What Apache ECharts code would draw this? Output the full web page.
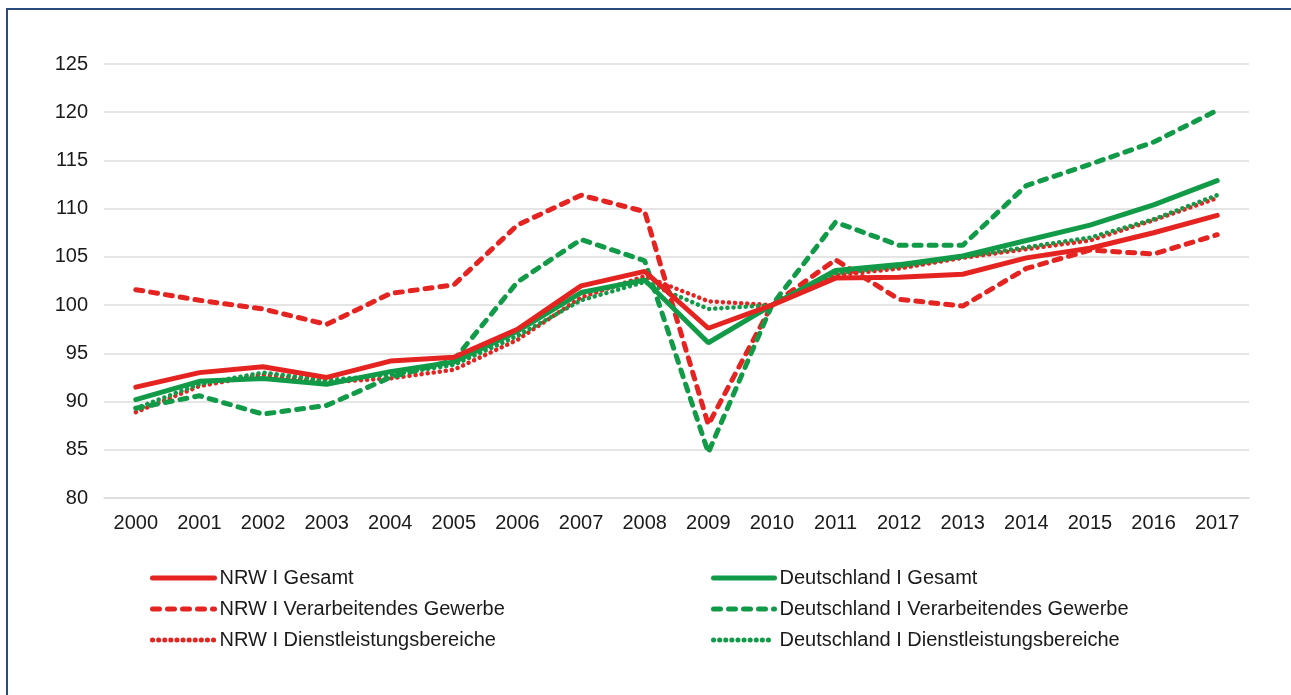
<!DOCTYPE html>
<html>
<head>
<meta charset="utf-8">
<script src="https://cdn.jsdelivr.net/npm/echarts@6/dist/echarts.min.js"></script>
<style>
  html, body { margin: 0; padding: 0; background: #fff; }
  #chart { width: 1291px; height: 695px; }
  .frame {
    position: absolute; left: 6px; top: 8px; width: 1300px; height: 700px;
    border-left: 2px solid #2b4a7c; border-top: 2px solid #2b4a7c;
    pointer-events: none;
  }
</style>
</head>
<body>
<div id="chart"></div>
<div class="frame"></div>
<script>
  // Jahre (Index 2010 = 100)
  const years = ['2000', '2001', '2002', '2003', '2004', '2005', '2006', '2007', '2008',
    '2009', '2010', '2011', '2012', '2013', '2014', '2015', '2016', '2017'];

  const nrwGesamt = [91.5, 93.0, 93.6, 92.5, 94.2, 94.6, 97.5, 102.0, 103.5,
    97.6, 100, 102.8, 102.9, 103.2, 104.9, 105.9, 107.5, 109.3];
  const nrwVerarb = [101.6, 100.5, 99.6, 98.0, 101.2, 102.1, 108.3, 111.4, 109.7,
    87.6, 100, 104.7, 100.6, 99.9, 103.8, 105.7, 105.3, 107.3];
  const nrwDienst = [88.9, 91.6, 92.8, 92.0, 92.4, 93.3, 96.4, 100.8, 103.0,
    100.4, 100, 103.1, 103.8, 104.9, 105.8, 106.7, 108.8, 111.1];
  const deGesamt = [90.2, 92.1, 92.4, 91.8, 93.1, 94.1, 97.3, 101.3, 102.6,
    96.1, 100, 103.6, 104.2, 105.1, 106.7, 108.3, 110.4, 112.9];
  const deVerarb = [89.3, 90.6, 88.7, 89.6, 92.5, 94.3, 102.4, 106.8, 104.6,
    84.7, 100, 108.6, 106.2, 106.2, 112.4, 114.6, 116.9, 120.2];
  const deDienst = [89.3, 91.8, 93.0, 92.2, 92.8, 93.8, 96.8, 100.5, 102.4,
    99.6, 100, 103.3, 104.0, 105.0, 106.0, 107.0, 108.9, 111.4];

  const RED = '#e52421';
  const GREEN = '#119a47';
  const FONT = '"Liberation Sans", Arial, Helvetica, sans-serif';

  const styles = {
    solid: { type: 'solid', width: 5, cap: 'round' },
    dashed: { type: [7, 8], width: 5, cap: 'round' },
    dotted: { type: [0.1, 6], width: 4.5, cap: 'round' },
  };

  const mkSeries = (name, data, color, kind) => ({
    name,
    type: 'line',
    data,
    symbol: 'none',
    smooth: false,
    lineStyle: { color, ...styles[kind] },
    itemStyle: { color },
    emphasis: { disabled: true },
  });

  const series = [
    mkSeries('NRW I Dienstleistungsbereiche', nrwDienst, RED, 'dotted'),
    mkSeries('Deutschland I Dienstleistungsbereiche', deDienst, GREEN, 'dotted'),
    mkSeries('NRW I Verarbeitendes Gewerbe', nrwVerarb, RED, 'dashed'),
    mkSeries('Deutschland I Verarbeitendes Gewerbe', deVerarb, GREEN, 'dashed'),
    mkSeries('Deutschland I Gesamt', deGesamt, GREEN, 'solid'),
    mkSeries('NRW I Gesamt', nrwGesamt, RED, 'solid'),
  ];

  const legendBase = {
    orient: 'vertical',
    top: 568,
    padding: 0,
    itemHeight: 14,
    itemGap: 11,
    selectedMode: false,
    itemStyle: { opacity: 0, borderWidth: 0 },
    lineStyle: { width: 5 },
    textStyle: { fontFamily: FONT, fontSize: 20, color: '#1a1a1a' },
  };

  const chart = echarts.init(document.getElementById('chart'));
  chart.setOption({
    animation: false,
    backgroundColor: '#fff',
    grid: { left: 104, right: 42, top: 64, bottom: 197 },
    legend: [
      { ...legendBase, left: 150, itemWidth: 62,
        data: ['NRW I Gesamt', 'NRW I Verarbeitendes Gewerbe', 'NRW I Dienstleistungsbereiche'] },
      { ...legendBase, left: 711, itemWidth: 61,
        data: ['Deutschland I Gesamt', 'Deutschland I Verarbeitendes Gewerbe', 'Deutschland I Dienstleistungsbereiche'] },
    ],
    xAxis: {
      type: 'category',
      data: years,
      boundaryGap: true,
      axisLine: { show: true, lineStyle: { color: '#dcdcdc', width: 1.5 } },
      axisTick: { show: false },
      axisLabel: { fontFamily: FONT, fontSize: 20, color: '#1a1a1a', margin: 15 },
    },
    yAxis: {
      type: 'value',
      min: 80,
      max: 125,
      interval: 5,
      axisLine: { show: false },
      axisTick: { show: false },
      axisLabel: { fontFamily: FONT, fontSize: 20, color: '#1a1a1a', margin: 16 },
      splitLine: { lineStyle: { color: '#dcdcdc', width: 1.5 } },
    },
    series,
  });
</script>
</body>
</html>
